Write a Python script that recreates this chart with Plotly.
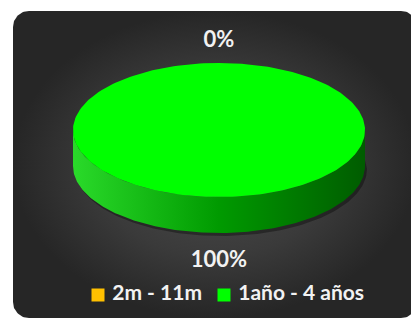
import numpy as np
import plotly.graph_objects as go

# ---- data ----
categories = ["2m - 11m", "1año - 4 años"]
values = [0, 100]
slice_colors = ["#FFC000", "#00FF00"]
side_scales = [
    [[0, "#FFD040"], [0.5, "#D09000"], [1, "#8A6000"]],
    [[0, "#2ADA2A"], [0.5, "#009A00"], [1, "#005C00"]],
]

# ---- geometry / style ----
W, H = 411, 318
CX, CY, RX, RY, DEPTH = 219, 130, 146, 67, 36
LABEL_OFF_TOP = 22
LABEL_OFF_BOTTOM = 28
FONT = "Lato, 'Open Sans', sans-serif"
LEG_X = [98, 224]
LEG_Y = 295

fig = go.Figure()

# background rounded rectangle with radial gradient
def rounded_rect(x0, y0, x1, y1, r, n=20):
    xs, ys = [], []
    corners = [(x1 - r, y0 + r, -90, 0), (x1 - r, y1 - r, 0, 90),
               (x0 + r, y1 - r, 90, 180), (x0 + r, y0 + r, 180, 270)]
    for cx, cy, a0, a1 in corners:
        t = np.radians(np.linspace(a0, a1, n))
        xs += list(cx + r * np.cos(t))
        ys += list(cy + r * np.sin(t))
    return xs + [xs[0]], ys + [ys[0]]

bx, by = rounded_rect(13, 11, 417, 318, 16)
fig.add_trace(go.Scatter(
    x=bx, y=by, mode="lines", fill="toself", line=dict(width=0),
    fillgradient=dict(type="radial",
                      colorscale=[[0, "#4E4E4E"], [0.6, "#3A3A3A"], [1, "#262626"]]),
    hoverinfo="skip", showlegend=False))

total = sum(values)
fracs = [v / total for v in values]
starts = np.cumsum([0] + fracs[:-1])

def pt(theta_deg, dy=0.0):
    t = np.radians(theta_deg)
    return CX + RX * np.sin(t), CY - RY * np.cos(t) + dy

# shadow under the pie
tt = np.linspace(90, 270, 120)
sx, sy = pt(tt, DEPTH + 3)
sx2, sy2 = pt(tt[::-1], DEPTH - 6)
fig.add_trace(go.Scatter(
    x=list(sx + 2) + list(sx2), y=list(sy) + list(sy2), mode="lines",
    fill="toself", line=dict(width=0), fillcolor="rgba(0,0,0,0.35)",
    hoverinfo="skip", showlegend=False))

# side faces (front half: 90..270 deg)
for i, f in enumerate(fracs):
    if f <= 0:
        continue
    a0, a1 = starts[i] * 360, (starts[i] + f) * 360
    lo, hi = max(a0, 90), min(a1, 270)
    if hi <= lo:
        continue
    t = np.linspace(lo, hi, 150)
    tx, ty = pt(t)
    bx2, by2 = pt(t[::-1], DEPTH)
    xs = list(tx) + list(bx2) + [tx[0]]
    ys = list(ty) + list(by2) + [ty[0]]
    fig.add_trace(go.Scatter(
        x=xs, y=ys, mode="lines", fill="toself", line=dict(width=0),
        fillgradient=dict(type="horizontal", colorscale=side_scales[i]),
        hoverinfo="skip", showlegend=False))

# top faces
for i, f in enumerate(fracs):
    if f <= 0:
        continue
    a0, a1 = starts[i] * 360, (starts[i] + f) * 360
    t = np.linspace(a0, a1, 240)
    tx, ty = pt(t)
    if f >= 1:
        xs, ys = list(tx), list(ty)
    else:
        xs = [CX] + list(tx) + [CX]
        ys = [CY] + list(ty) + [CY]
    fig.add_trace(go.Scatter(
        x=xs, y=ys, mode="lines", fill="toself", line=dict(width=0),
        fillcolor=slice_colors[i], hoverinfo="skip", showlegend=False))

# percentage labels
for i, f in enumerate(fracs):
    mid = (starts[i] + f / 2) * 360
    t = np.radians(mid)
    if np.cos(t) >= 0:
        lx = CX + (RX + LABEL_OFF_TOP) * np.sin(t)
        ly = CY - (RY + LABEL_OFF_TOP) * np.cos(t)
    else:
        lx = CX + (RX + LABEL_OFF_BOTTOM) * np.sin(t)
        ly = CY - (RY + LABEL_OFF_BOTTOM) * np.cos(t) + DEPTH
    fig.add_trace(go.Scatter(
        x=[lx], y=[ly], mode="text", text=[f"{round(f * 100)}%"],
        textfont=dict(family=FONT, size=22, color="#F2F2F2", weight="bold"),
        hoverinfo="skip", showlegend=False))

# legend
for i, c in enumerate(categories):
    fig.add_trace(go.Scatter(
        x=[LEG_X[i]], y=[LEG_Y], mode="markers+text", text=[" " + c],
        textposition="middle right",
        marker=dict(symbol="square", size=13, color=slice_colors[i], line=dict(width=0)),
        textfont=dict(family=FONT, size=21, color="#F2F2F2", weight="bold"),
        hoverinfo="skip", showlegend=False))

fig.update_layout(
    width=W, height=H, margin=dict(l=0, r=0, t=0, b=0),
    paper_bgcolor="white", plot_bgcolor="rgba(0,0,0,0)",
    xaxis=dict(range=[0, W], visible=False, fixedrange=True),
    yaxis=dict(range=[H, 0], visible=False, fixedrange=True),
    showlegend=False,
)

fig.write_html("out.html", config={"displayModeBar": False},
               post_script="document.body.style.margin='0';document.body.style.overflow='hidden';")
